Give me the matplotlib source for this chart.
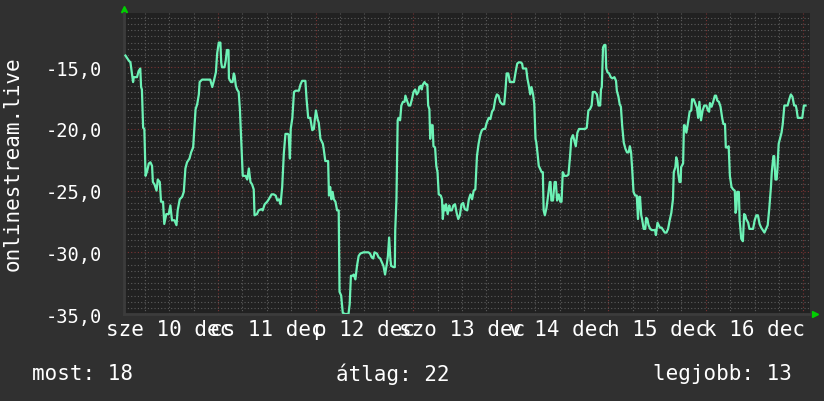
import matplotlib
matplotlib.use("Agg")
import matplotlib.pyplot as plt
from matplotlib.ticker import MultipleLocator, FuncFormatter

# hours since Wed 10 Dec 00:00 and the measured value
hours = [
    1.25, 2.07, 2.48, 3.13, 3.3, 4.1, 4.5, 4.9, 5.1, 5.3, 5.6, 5.9, 6.2, 6.6, 7.0, 7.4, 7.8, 8.0,
    8.4, 8.9, 9.2, 9.7, 10.0, 10.5, 10.8, 11.3, 11.9, 12.3, 12.7, 13.3, 13.8, 14.1, 14.6, 15.2,
    15.6, 16.0, 16.4, 17.0, 17.4, 17.9, 18.2, 18.5, 18.9, 19.3, 19.5, 20.1, 22.1, 22.6, 23.0,
    23.5, 23.8, 24.2, 24.6, 24.8, 25.0, 25.6, 25.9, 26.2, 26.6, 26.7, 27.2, 27.6, 27.9, 28.1,
    28.4, 28.7, 29.1, 29.4,
    29.5, 29.8, 30.1, 30.8, 31.2, 31.6, 32.0, 32.4, 32.8, 33.0, 33.6, 34.0, 34.7, 35.0, 35.5,
    36.1, 36.5, 37.2, 37.7, 38.2, 38.6, 39.0, 39.4, 39.8, 40.2, 40.6, 41.2, 41.4, 41.7, 41.9,
    42.3, 42.7, 43.1, 43.9, 44.3, 44.7, 45.5, 45.8, 46.2, 46.7, 47.2, 47.6, 47.8, 48.1, 48.5,
    48.8, 49.2, 49.8, 50.0, 50.4, 51.1, 51.3, 51.6, 51.9, 52.2, 52.5, 52.9, 53.3, 53.7, 53.9,
    54.3, 54.7, 55.2, 56.1, 56.4, 56.7, 57.1,
    57.4, 57.8, 58.2, 58.6, 59.0, 59.8, 61.0, 61.4, 61.8, 62.2, 62.5, 63.1, 63.5, 63.9, 64.3,
    64.7, 65.1, 65.6, 65.8, 66.1, 66.4, 66.6, 67.2, 67.5, 67.6, 67.9, 68.2, 68.4, 68.8, 69.1,
    69.5, 69.9, 70.1, 70.5, 70.9, 71.3, 71.7, 72.1, 72.5, 72.9, 73.3, 73.5, 73.9, 74.1, 74.4,
    74.8, 75.2, 75.5, 75.7, 76.0, 76.2, 76.4, 76.8, 77.0, 77.4, 77.7, 78.0, 78.3, 78.8, 79.1,
    79.3, 79.6, 79.9, 80.1, 80.5, 80.9, 81.1, 81.5, 81.9, 82.3, 82.7, 83.1, 83.5, 83.9, 84.3,
    84.7,
    85.3, 85.7, 86.1, 86.5, 86.9, 87.3, 87.7, 88.1, 88.5, 88.9, 89.3, 89.7, 90.1, 90.6, 91.0,
    91.4, 91.8, 92.2, 92.6, 93.0, 93.4, 93.9, 94.4, 94.7, 95.0, 95.4, 95.8, 96.2, 96.8, 97.2,
    97.6, 98.0, 98.4, 98.8, 99.0, 99.4, 99.8, 100.1, 100.4, 100.8, 101.1, 101.5, 101.8, 102.1,
    102.3, 102.6, 102.9, 103.2, 103.6, 103.9, 104.1, 104.4, 104.8, 105.2, 105.6, 105.8, 106.0,
    106.4, 106.8, 107.1, 107.4, 107.8, 108.2, 108.5, 108.8, 109.2, 109.8, 110.2, 110.6, 110.9,
    111.3, 111.6, 112.0, 112.4, 112.8, 113.6,
    114.3, 114.7, 115.1, 115.5, 115.9, 116.2, 116.7, 117.2, 117.6, 118.0, 118.2, 118.4, 118.7,
    119.0, 119.3, 119.5, 119.8, 120.2, 120.6, 121.0, 121.5, 121.9, 122.1, 122.5, 122.8, 123.1,
    123.4, 123.8, 124.2, 124.6, 125.0, 125.3, 125.6, 125.9, 126.2, 126.6, 127.0, 127.3, 127.6,
    127.8, 128.1, 128.3, 128.7, 129.1, 129.3, 129.6, 129.9, 130.3, 130.7, 131.1, 131.5, 131.7,
    132.1, 132.4, 132.7, 133.1, 133.5, 133.9, 134.3, 134.7, 135.1, 135.5, 135.9, 136.1, 136.5,
    136.7, 137.0, 137.2, 137.5, 137.8, 137.9, 138.4, 138.6, 138.8, 139.2, 139.6, 140.0, 140.4,
    140.6, 141.0,
    141.8, 142.1, 142.4, 142.8, 143.2, 143.6, 144.1, 144.5, 144.8, 145.0, 145.4, 145.8, 146.2,
    146.5, 146.8, 147.2, 147.6, 148.0, 148.3, 148.7, 148.9, 149.3, 149.6, 149.9, 150.3, 150.7,
    151.1, 151.3, 151.5, 151.7, 152.1, 152.3, 152.7, 153.1, 153.4, 153.7, 153.9, 154.4, 154.7,
    155.2, 155.6, 156.0, 156.4, 156.8, 157.2, 157.6, 158.0, 158.4, 158.8, 159.2, 159.6, 160.0,
    160.2, 160.6, 160.8, 161.1, 161.4, 161.6, 161.9, 162.2, 162.6, 162.9, 163.3, 163.7, 164.1,
    164.5, 164.9, 165.3, 165.7, 166.1, 166.3, 166.6, 167.1, 167.7, 168.1, 168.5,
]
values = [
    -14.05, -14.46, -14.6, -16.2, -15.8, -15.8, -15.3, -15.1, -16.6, -16.8, -19.9, -20.0, -23.8,
    -23.4, -22.8, -22.7, -23.0, -24.3, -24.5, -25.0, -24.1, -24.3, -25.9, -25.9, -27.7, -26.9,
    -26.9, -26.2, -27.4, -27.4, -27.8, -26.6, -25.7, -25.5, -25.1, -23.2, -22.7, -22.4, -21.9,
    -21.5, -20.0, -18.4, -18.0, -17.2, -16.2, -16.0, -16.0, -16.6, -16.1, -15.4, -13.9, -13.0,
    -13.0, -14.6, -15.0, -15.0, -14.5, -13.6, -13.6, -15.9, -16.2, -16.2, -15.5, -15.7, -16.5,
    -16.8, -17.0, -18.4,
    -19.2, -21.6, -23.8, -23.8, -24.1, -23.2, -24.3, -24.5, -24.9, -27.0, -26.9, -26.6, -26.5,
    -26.6, -26.1, -25.9, -25.7, -25.3, -25.3, -25.4, -25.8, -25.7, -26.1, -24.7, -22.0, -20.4,
    -20.4, -20.5, -22.4, -20.0, -19.1, -17.0, -16.9, -16.9, -16.4, -16.1, -16.1, -17.6, -19.1,
    -19.1, -20.1, -20.0, -19.3, -18.5, -19.2, -19.5, -20.8, -21.2, -21.6, -22.6, -22.6, -25.4,
    -24.7, -25.7, -25.1, -25.7, -25.9, -26.6, -26.6, -33.2, -33.5, -34.9, -35.0, -35.0, -34.2,
    -31.9, -31.9,
    -31.8, -32.2, -31.1, -30.3, -30.1, -30.0, -30.0, -30.1, -30.4, -30.5, -30.0, -30.1, -30.4,
    -30.5, -30.8, -31.1, -31.8, -30.8, -30.3, -28.8, -30.5, -31.1, -31.2, -31.2, -28.2, -25.7,
    -19.3, -19.1, -19.3, -18.1, -17.8, -17.8, -17.3, -17.7, -18.1, -18.1, -17.6, -17.0, -16.8,
    -17.2, -17.0, -16.6, -16.5, -16.8, -16.4, -16.2, -16.4, -16.4, -18.1, -18.4, -20.8, -19.7,
    -19.7, -21.4, -21.5, -23.0, -23.5, -25.3, -25.4, -25.7, -27.3, -26.2, -26.6, -26.1, -26.9,
    -26.2, -26.6, -26.6, -26.2, -26.1, -26.8, -27.3, -27.0, -26.1, -26.0, -26.5,
    -26.6, -25.7, -25.3, -25.7, -25.0, -24.9, -22.2, -21.2, -20.5, -20.1, -20.0, -20.0, -19.5,
    -19.1, -19.2, -18.6, -18.4, -17.6, -17.2, -17.3, -17.8, -18.0, -18.0, -16.9, -15.5, -15.5,
    -16.2, -16.2, -16.2, -15.4, -14.7, -14.6, -14.6, -14.7, -15.1, -15.1, -15.1, -15.9, -16.4,
    -17.2, -16.6, -17.2, -18.0, -20.8, -21.1, -22.0, -23.0, -23.2, -23.5, -23.5, -26.6, -27.0,
    -26.4, -25.4, -24.3, -24.3, -25.8, -25.8, -24.3, -24.3, -25.8, -25.3, -25.9, -25.9, -23.5,
    -23.8, -23.8, -23.7, -22.2, -20.8, -20.5, -20.9, -21.4, -20.3, -20.0, -20.0,
    -20.0, -19.9, -18.5, -18.4, -18.1, -17.0, -17.0, -17.2, -18.1, -18.1, -16.8, -16.6, -13.4,
    -13.2, -13.2, -15.1, -15.4, -15.5, -15.8, -15.9, -15.8, -16.1, -16.9, -17.4, -18.0, -18.2,
    -19.7, -21.1, -21.6, -21.9, -21.9, -21.4, -21.9, -23.4, -25.1, -25.4, -25.4, -27.3, -25.5,
    -25.5, -27.0, -27.3, -28.1, -28.1, -27.2, -27.3, -27.8, -28.1, -28.2, -28.2, -28.2, -28.6,
    -27.6, -27.8, -28.0, -28.0, -28.2, -28.4, -28.4, -28.1, -27.4, -26.8, -25.7, -23.5, -23.1,
    -22.3, -22.7, -23.6, -24.3, -24.3, -23.1, -22.8, -19.7, -19.7, -20.3, -19.5, -18.6, -18.5,
    -17.6, -17.6,
    -18.3, -19.1, -17.8, -19.3, -18.5, -18.1, -18.1, -18.5, -18.6, -17.9, -18.2, -17.8, -17.3,
    -17.3, -17.7, -17.8, -18.2, -19.1, -19.6, -19.6, -21.5, -21.5, -21.4, -23.8, -24.7, -24.9,
    -25.0, -26.8, -26.5, -25.1, -25.1, -27.4, -28.9, -29.1, -26.9, -27.0, -27.3, -27.6, -28.1,
    -28.1, -28.1, -27.4, -27.0, -27.0, -27.7, -28.0, -28.2, -28.4, -28.1, -27.8, -26.4, -24.7,
    -23.5, -22.2, -22.2, -24.1, -24.1, -23.2, -21.2, -20.8, -20.3, -19.6, -18.1, -18.1, -18.1,
    -17.6, -17.2, -17.4, -18.1, -18.1, -18.4, -19.1, -19.1, -19.1, -18.1, -18.1,
]

# day labels, centred at noon of each day
label_hours = [12, 36, 60, 84, 108, 132, 156]
day_labels = ["sze 10 dec", "cs 11 dec", "p 12 dec", "szo 13 dec", "v 14 dec", "h 15 dec", "k 16 dec"]

legend_texts = ["most: 18", "átlag: 22", "legjobb: 13"]

font = "DejaVu Sans Mono"
fs = 15
bg = "#303030"
plot_bg = "#212121"

fig = plt.figure(figsize=(8.24, 4.02), dpi=100, facecolor=bg)
ax = fig.add_axes([0.1505, 0.2164, 0.832, 0.7488], facecolor=plot_bg)

ax.plot(hours, values, color="#6df2b6", lw=1.6, zorder=3)

ax.set_xlim(0.9, 169.5)
ax.set_ylim(-35, -10.6)

ax.xaxis.set_major_locator(MultipleLocator(24))
ax.xaxis.set_minor_locator(MultipleLocator(6))
ax.yaxis.set_major_locator(MultipleLocator(5))
ax.yaxis.set_minor_locator(MultipleLocator(0.5))

ax.grid(which="minor", color="#5c5c5c", linestyle=(0, (1, 2)), lw=0.8, zorder=1)
ax.grid(which="major", color="#7a3434", linestyle=(0, (1, 2)), lw=0.8, zorder=2)

ax.xaxis.set_ticklabels([])
ax.tick_params(axis="x", which="both", length=0)
ax.tick_params(axis="y", which="both", length=0, pad=16, labelcolor="white", labelsize=13.5)
ax.yaxis.set_major_formatter(FuncFormatter(lambda v, p: f"{v:.1f}".replace(".", ",")))
for lab in ax.get_yticklabels():
    lab.set_family(font)

for s in ["top", "right"]:
    ax.spines[s].set_visible(False)
for s in ["left", "bottom"]:
    ax.spines[s].set_color("#3c3c3c")
    ax.spines[s].set_linewidth(2)

for h, txt in zip(label_hours, day_labels):
    ax.text(h, -0.018, txt, transform=ax.get_xaxis_transform(), ha="center", va="top",
            color="white", fontsize=fs, family=font)

# rrdtool-style arrow heads
ax.plot([0], [1.012], marker="^", color="#00d000", ms=5, transform=ax.transAxes, clip_on=False)
ax.plot([1.008], [0.0], marker=">", color="#00d000", ms=5, transform=ax.transAxes, clip_on=False)

fig.text(0.015, 0.592, "onlinestream.live", rotation=90, ha="center", va="center",
         color="white", fontsize=fs, family=font)

fig.text(32 / 824, 1 - 374 / 402, legend_texts[0], ha="left", va="center", color="white", fontsize=fs, family=font)
fig.text(393 / 824, 1 - 374 / 402, legend_texts[1], ha="center", va="center", color="white", fontsize=fs, family=font)
fig.text(792 / 824, 1 - 374 / 402, legend_texts[2], ha="right", va="center", color="white", fontsize=fs, family=font)

fig.savefig("out.png", dpi=100, facecolor=bg)
